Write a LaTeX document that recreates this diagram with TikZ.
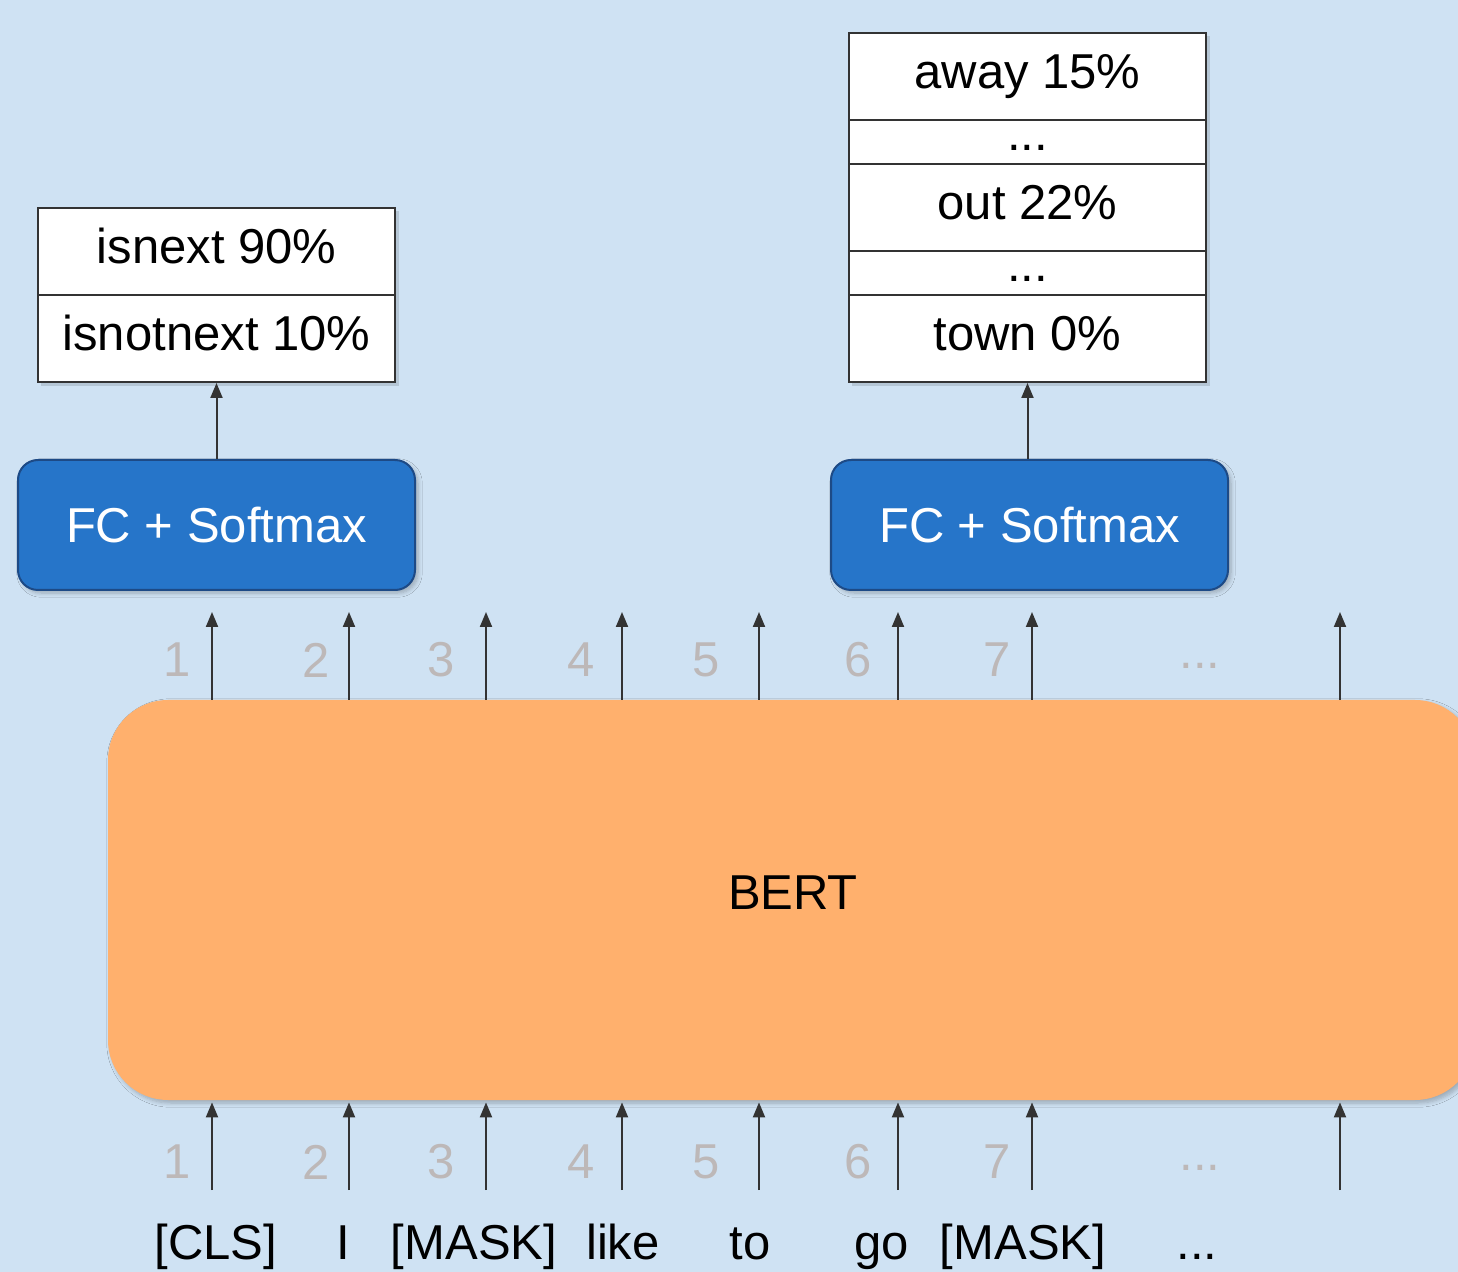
\documentclass[tikz,border=0pt]{standalone}
\usepackage{fontspec}
\setmainfont{Liberation Sans}
\usetikzlibrary{arrows.meta,shadows.blur}
\definecolor{bgblue}{HTML}{CFE2F3}
\definecolor{fcfill}{HTML}{2675C9}
\definecolor{fcedge}{HTML}{1D4A86}
\definecolor{bertfill}{HTML}{FFB06D}
\definecolor{numgray}{HTML}{BDB8B8}
\definecolor{linegray}{HTML}{333333}
\begin{document}
\begin{tikzpicture}[x=0.5pt,y=-0.5pt,
  font=\fontsize{24.5pt}{29pt}\selectfont,
  shade/.style={blur shadow={shadow xshift=1.5pt,shadow yshift=-1.5pt,shadow blur steps=6,shadow opacity=25}},
  cell/.style={draw=linegray,line width=1pt,fill=white,minimum width=178.5pt,inner sep=0pt,text height=17.6pt,text depth=5.1pt},
  bigcell/.style={cell,minimum height=43.5pt},
  smallcell/.style={cell,minimum height=22pt,text height=9pt,text depth=0pt},
  fcbox/.style={draw=fcedge,line width=1pt,fill=fcfill,rounded corners=10pt,text=white,minimum width=198.5pt,minimum height=65pt,shade},
  bertbox/.style={fill=bertfill,rounded corners=30pt,minimum width=683.5pt,minimum height=200pt,shade},
  arr/.style={draw=linegray,line width=1pt,-{Triangle[length=7.5pt,width=6pt]}},
  num/.style={text=numgray,inner sep=0pt},
  word/.style={text=black,inner sep=0pt,anchor=base}]
\useasboundingbox (0,0) rectangle (1458,1272);
\fill[bgblue] (0,0) rectangle (1458,1272);
\clip (0,0) rectangle (1458,1272);

% BERT
\node[bertbox] (bert) at (791.5,900) {};
\node[word,anchor=center] (berttext) at (793,893) {BERT};

% left table
\fill[black,opacity=0.12] (41,211) rectangle (399,386);
\node[bigcell] (isnext) at (216.5,251.5) {isnext 90\%};
\node[bigcell] (isnotnext) at (216.5,338.5) {isnotnext 10\%};

% right table
\fill[black,opacity=0.12] (852,36) rectangle (1210,386);
\node[bigcell] (away) at (1027.5,76.5) {away 15\%};
\node[smallcell] (dotsa) at (1027.5,142) {...};
\node[bigcell] (out) at (1027.5,207.5) {out 22\%};
\node[smallcell] (dotsb) at (1027.5,273) {...};
\node[bigcell] (town) at (1027.5,338.5) {town 0\%};

% FC boxes
\node[fcbox] (fcl) at (216.5,525) {FC + Softmax};
\node[fcbox] (fcr) at (1029.5,525) {FC + Softmax};

\draw[arr] (fcl.north) -- (isnotnext.south);
\draw[arr] (fcr.north -| town.south) -- (town.south);

% token arrows
\foreach \i/\x in {1/212,2/349,3/486,4/622,5/759,6/898,7/1032,8/1340}{
  \coordinate (top\i) at (\x,612);
  \coordinate (bot\i) at (\x,1190);
  \draw[arr] (bert.north -| top\i) -- (top\i);
  \draw[arr] (bot\i) -- ([yshift=-1pt]bert.south -| bot\i);
}

% number labels
\foreach \n/\x in {1/177,2/316,3/441,4/581,5/706,6/858,7/997}{
  \node[num] (tn\n) at (\x,660) {\n};
  \node[num] (bn\n) at (\x,1162) {\n};
}
\node[num] (tndots) at (1200,666) {...};
\node[num] (bndots) at (1200,1168) {...};

% words
\node[word] (w1) at (216,1259) {[CLS]};
\node[word] (w2) at (343,1259) {I};
\node[word] (w3) at (474,1259) {[MASK]};
\node[word] (w4) at (623,1259) {like};
\node[word] (w5) at (750,1259) {to};
\node[word] (w6) at (882,1259) {go};
\node[word] (w7) at (1023,1259) {[MASK]};
\node[word] (w8) at (1197,1259) {...};
\end{tikzpicture}
\end{document}
